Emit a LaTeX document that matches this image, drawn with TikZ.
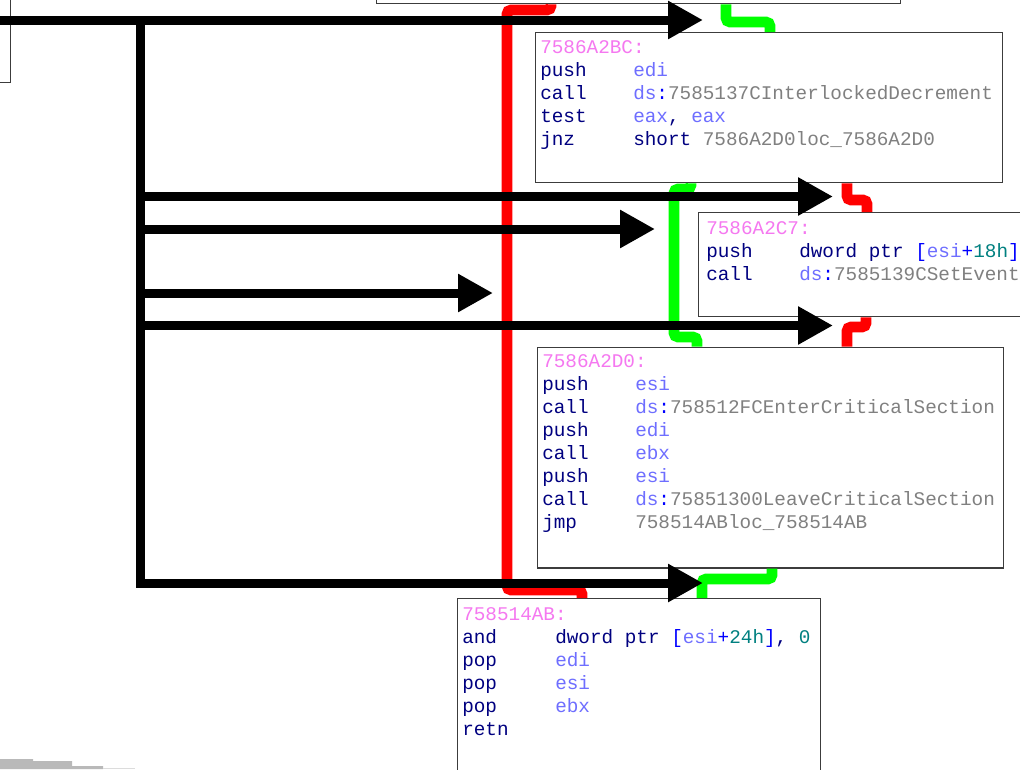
\documentclass[tikz,border=0pt]{standalone}
\usepackage{fontspec}
\setmonofont{Liberation Mono}
\usetikzlibrary{arrows.meta}
\definecolor{addrc}{RGB}{245,120,240}
\definecolor{mnc}{RGB}{0,0,128}
\definecolor{regc}{RGB}{110,110,255}
\definecolor{grc}{RGB}{128,128,128}
\definecolor{bluc}{RGB}{0,0,255}
\definecolor{tealc}{RGB}{0,128,128}
\definecolor{boxc}{RGB}{60,60,60}
\definecolor{redc}{RGB}{255,0,0}
\definecolor{greenc}{RGB}{0,255,0}
\definecolor{shadec}{RGB}{185,185,185}
\newcommand{\Ad}[1]{\textcolor{addrc}{#1}}
\newcommand{\Mn}[1]{\makebox[69.75pt][l]{\textcolor{mnc}{#1}}}
\newcommand{\Rg}[1]{\textcolor{regc}{#1}}
\newcommand{\Gy}[1]{\textcolor{grc}{#1}}
\newcommand{\Nv}[1]{\textcolor{mnc}{#1}}
\newcommand{\Bu}[1]{\textcolor{bluc}{#1}}
\newcommand{\Tl}[1]{\textcolor{tealc}{#1}}
\begin{document}
\begin{tikzpicture}[x=0.75pt,y=-0.75pt,
  blk/.style={draw=boxc, line width=1.1pt, fill=white, inner sep=0pt, anchor=north west},
  code/.style={font=\ttfamily\fontsize{14.5}{17.25}\selectfont, align=left, inner sep=0pt, anchor=north west},
  redl/.style={draw=redc, line width=8pt, rounded corners=3pt},
  greenl/.style={draw=greenc, line width=8pt, rounded corners=3pt},
  barrow/.style={draw=black, line width=6.75pt, -{Triangle[length=26.25pt,width=27pt]}}]
\useasboundingbox (0,0) rectangle (1020,769);
\clip (0,0) rectangle (1020,769);
% boxes
\node[blk, minimum width=393pt, minimum height=12pt] (top) at (376,-13) {};
\node[blk, minimum width=22.5pt, minimum height=69pt] (left) at (-20,-10) {};
\node[blk, minimum width=350.25pt, minimum height=112.5pt] (b1) at (535,32) {};
\node[blk, minimum width=255pt, minimum height=78pt] (b2) at (698,212) {};
\node[blk, minimum width=349.5pt, minimum height=165.4pt] (b3) at (537,346.5) {};
\node[blk, minimum width=272.25pt, minimum height=142.5pt] (b4) at (457,598) {};
% texts
\node[code] (t1) at (540,40) {\Ad{7586A2BC:}\\
\Mn{push}\Rg{edi}\\
\Mn{call}\Rg{ds}\Bu{:}\Gy{7585137CInterlockedDecrement}\\
\Mn{test}\Rg{eax}\Nv{,} \Rg{eax}\\
\Mn{jnz}\Nv{short} \Gy{7586A2D0loc\_7586A2D0}};
\node[code] (t2) at (706,221) {\Ad{7586A2C7:}\\
\Mn{push}\Nv{dword ptr} \Bu{[}\Rg{esi}\Bu{+}\Tl{18h}\Bu{]}\\
\Mn{call}\Rg{ds}\Bu{:}\Gy{7585139CSetEvent}};
\node[code] (t3) at (542,354) {\Ad{7586A2D0:}\\
\Mn{push}\Rg{esi}\\
\Mn{call}\Rg{ds}\Bu{:}\Gy{758512FCEnterCriticalSection}\\
\Mn{push}\Rg{edi}\\
\Mn{call}\Rg{ebx}\\
\Mn{push}\Rg{esi}\\
\Mn{call}\Rg{ds}\Bu{:}\Gy{75851300LeaveCriticalSection}\\
\Mn{jmp}\Gy{758514ABloc\_758514AB}};
\node[code] (t4) at (462,607) {\Ad{758514AB:}\\
\Mn{and}\Nv{dword ptr} \Bu{[}\Rg{esi}\Bu{+}\Tl{24h}\Bu{]}\Nv{,} \Tl{0}\\
\Mn{pop}\Rg{edi}\\
\Mn{pop}\Rg{esi}\\
\Mn{pop}\Rg{ebx}\\
\Mn{retn}};
% shade at bottom left
\fill[shadec] (0,759) -- (33,759) -- (33,761) -- (72,761) -- (72,766) -- (103,766) -- (103,769) -- (0,769) -- cycle;
\fill[shadec!50] (103,768) rectangle (135,769);
% red and green flow lines
\draw[redl] (551,0 |- top.south) -- (551,10) -- (507,10) -- (507,590) -- (582,590) -- (582,0 |- b4.north);
\draw[greenl] (726,0 |- top.south) -- (726,22) -- (770,22) -- (770,0 |- b1.north);
\draw[greenl] (691,0 |- b1.south) -- (691,189) -- (674,189) -- (674,337) -- (697,337) -- (697,0 |- b3.north);
\draw[redl] (847,0 |- b1.south) -- (847,200) -- (867,200) -- (867,0 |- b2.north);
\draw[redl] (866,0 |- b2.south) -- (866,327) -- (847,327) -- (847,0 |- b3.north);
\draw[greenl] (772,0 |- b3.south) -- (772,579) -- (702,579) -- (702,0 |- b4.north);
% black arrows
\coordinate (s0) at (0,20);
\coordinate (j1) at (140,20);
\coordinate (j6) at (140,583);
\coordinate (e1) at (703,20);
\coordinate (e2) at (833,196.5);
\coordinate (e3) at (655,229);
\coordinate (e4) at (493,293);
\coordinate (e5) at (833,325.5);
\coordinate (e6) at (703,583);
\draw[barrow] (s0) -- (e1);
\draw[barrow] (j1) -- (j6) -- (e6);
\draw[barrow] (140,0 |- e2) -- (e2);
\draw[barrow] (140,0 |- e3) -- (e3);
\draw[barrow] (140,0 |- e4) -- (e4);
\draw[barrow] (140,0 |- e5) -- (e5);
\end{tikzpicture}
\end{document}
